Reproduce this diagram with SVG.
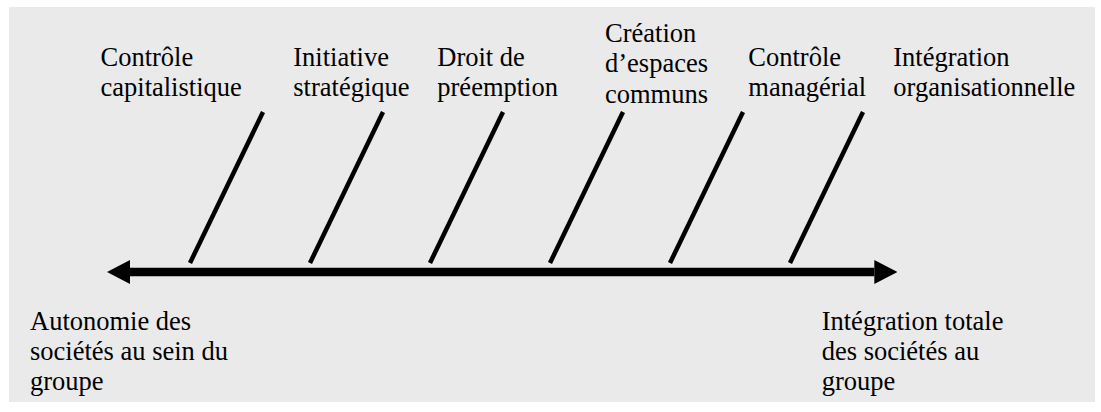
<svg xmlns="http://www.w3.org/2000/svg" width="1101" height="412" viewBox="0 0 1101 412">
  <style>
    text { font-family: "Liberation Serif", "Times New Roman", serif; font-size: 26.5px; fill: #000; }
    .tick { stroke: #000; stroke-width: 4.5; stroke-linecap: butt; fill: none; }
    .axis { stroke: #000; stroke-width: 8.3; fill: none; }
  </style>
  <defs>
    <marker id="ah" viewBox="0 0 23 24" refX="0" refY="12" markerUnits="userSpaceOnUse" markerWidth="23" markerHeight="24" orient="auto-start-reverse">
      <path d="M0,0 L23,12 L0,24 Z" fill="#000"/>
    </marker>
  </defs>
  <rect x="9" y="7" width="1086" height="395" fill="#eaeaea"/>
  <g id="connectors">
    <line class="axis" x1="130" y1="272" x2="874.3" y2="272" marker-start="url(#ah)" marker-end="url(#ah)"/>
    <line class="tick" x1="190" y1="263" x2="263" y2="112"/>
    <line class="tick" x1="310" y1="263" x2="383" y2="112"/>
    <line class="tick" x1="430" y1="263" x2="503" y2="112"/>
    <line class="tick" x1="550" y1="263" x2="623" y2="112"/>
    <line class="tick" x1="670" y1="263" x2="743" y2="112"/>
    <line class="tick" x1="790" y1="263" x2="863" y2="112"/>
  </g>
  <g id="node-controle-capitalistique">
    <text x="100.5" y="65.5">Contrôle</text>
    <text x="100.5" y="96">capitalistique</text>
  </g>
  <g id="node-initiative-strategique">
    <text x="293.3" y="65.5">Initiative</text>
    <text x="293.3" y="96">stratégique</text>
  </g>
  <g id="node-droit-preemption">
    <text x="437.3" y="65.5">Droit de</text>
    <text x="437.3" y="96">préemption</text>
  </g>
  <g id="node-creation-espaces">
    <text x="605" y="41.7">Création</text>
    <text x="605" y="72">d’espaces</text>
    <text x="605" y="102.7">communs</text>
  </g>
  <g id="node-controle-managerial">
    <text x="748.3" y="65.5">Contrôle</text>
    <text x="748.3" y="96">managérial</text>
  </g>
  <g id="node-integration-organisationnelle">
    <text x="893.3" y="65.5">Intégration</text>
    <text x="893.3" y="96">organisationnelle</text>
  </g>
  <g id="node-autonomie">
    <text x="30" y="330">Autonomie des</text>
    <text x="30" y="360">sociétés au sein du</text>
    <text x="30" y="390">groupe</text>
  </g>
  <g id="node-integration-totale">
    <text x="821.7" y="330">Intégration totale</text>
    <text x="821.7" y="360">des sociétés au</text>
    <text x="821.7" y="390">groupe</text>
  </g>
</svg>
